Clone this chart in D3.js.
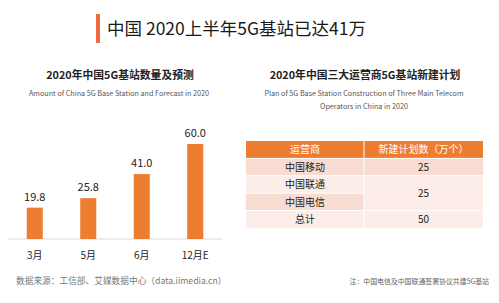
<!DOCTYPE html>
<html>
<head>
<meta charset="utf-8">
<script src="https://cdn.jsdelivr.net/npm/d3@7"></script>
<style>
  body { margin: 0; background: #fff; }
  svg { display: block; font-family: "Noto Sans CJK SC", "Noto Sans", sans-serif; }
</style>
</head>
<body>
<svg id="chart" width="499" height="303"></svg>
<script>
// bar chart data
const months = ['3月', '5月', '6月', '12月E'];
const stations = [19.8, 25.8, 41.0, 60.0];

// table data
const tableHeader = ['运营商', '新建计划数（万个）'];
const operators = ['中国移动', '中国联通', '中国电信', '总计'];
const planValues = [25, 25, 50]; // 联通+电信 share one merged cell

const orange = '#ED7D31';
const svg = d3.select('#chart');

// main title with marker
svg.append('rect')
  .attr('x', 96).attr('y', 14).attr('width', 4).attr('height', 29)
  .attr('fill', '#EE6A3F');
svg.append('text')
  .attr('x', 107).attr('y', 35)
  .attr('font-size', 17.5).attr('fill', '#1a1a1a')
  .text('中国 2020上半年5G基站已达41万');

// section titles
svg.append('text')
  .attr('x', 120).attr('y', 79).attr('text-anchor', 'middle')
  .attr('font-size', 10.8).attr('font-weight', 'bold').attr('fill', '#222')
  .text('2020年中国5G基站数量及预测');
svg.append('text')
  .attr('x', 119).attr('y', 96).attr('text-anchor', 'middle')
  .attr('font-size', 7.2).attr('fill', '#555')
  .text('Amount of China 5G Base Station and Forecast in 2020');

svg.append('text')
  .attr('x', 365).attr('y', 79).attr('text-anchor', 'middle')
  .attr('font-size', 10.8).attr('font-weight', 'bold').attr('fill', '#222')
  .text('2020年中国三大运营商5G基站新建计划');
svg.append('text')
  .attr('x', 364).attr('y', 96).attr('text-anchor', 'middle')
  .attr('font-size', 7.2).attr('fill', '#555')
  .text('Plan of 5G Base Station Construction of Three Main Telecom');
svg.append('text')
  .attr('x', 364).attr('y', 109).attr('text-anchor', 'middle')
  .attr('font-size', 7.2).attr('fill', '#555')
  .text('Operators in China in 2020');

// bar chart
const x = d3.scaleBand()
  .domain(months)
  .range([8, 222])
  .paddingInner(0.7)
  .paddingOuter(0.35);

const y = d3.scaleLinear()
  .domain([0, 60])
  .range([239, 144]);

svg.append('line')
  .attr('x1', 8).attr('x2', 222)
  .attr('y1', y(0)).attr('y2', y(0))
  .attr('stroke', '#d9d9d9').attr('stroke-width', 1);

const bars = svg.append('g').selectAll('g')
  .data(stations)
  .enter()
  .append('g');

bars.append('rect')
  .attr('x', (d, i) => x(months[i]))
  .attr('y', d => y(d))
  .attr('width', x.bandwidth())
  .attr('height', d => y(0) - y(d))
  .attr('fill', orange);

bars.append('text')
  .attr('x', (d, i) => x(months[i]) + x.bandwidth() / 2)
  .attr('y', d => y(d) - 7)
  .attr('text-anchor', 'middle')
  .attr('font-size', 11).attr('fill', '#222')
  .text(d => d.toFixed(1));

const xAxis = d3.axisBottom(x).tickSize(0).tickPadding(13);
svg.append('g')
  .attr('transform', `translate(0, ${y(0)})`)
  .call(xAxis)
  .call(g => g.select('.domain').remove())
  .selectAll('text')
  .attr('font-family', '"Noto Sans CJK SC", sans-serif')
  .attr('font-size', 10).attr('fill', '#222');

// table
const tx = 246, tMid = 364, tRight = 483;
const rowY = d3.scaleBand()
  .domain(['head'].concat(operators))
  .range([141, 228]);
const rh = rowY.bandwidth();
const dark = '#F8DCD2', light = '#FCEDE8';
const rowFill = [dark, light, dark, light];

svg.append('rect')
  .attr('x', tx).attr('y', rowY('head'))
  .attr('width', tRight - tx).attr('height', rh)
  .attr('fill', orange);

tableHeader.forEach((h, i) => {
  svg.append('text')
    .attr('x', i === 0 ? (tx + tMid) / 2 : (tMid + tRight) / 2)
    .attr('y', rowY('head') + rh / 2 + 3.6)
    .attr('text-anchor', 'middle')
    .attr('font-size', 10).attr('fill', '#fff')
    .text(h);
});

operators.forEach((op, i) => {
  svg.append('rect')
    .attr('x', tx).attr('y', rowY(op))
    .attr('width', tMid - tx).attr('height', rh)
    .attr('fill', rowFill[i]);
  svg.append('text')
    .attr('x', (tx + tMid) / 2)
    .attr('y', rowY(op) + rh / 2 + 3.6)
    .attr('text-anchor', 'middle')
    .attr('font-size', 10).attr('fill', '#222')
    .text(op);
});

// value column: row1, merged rows 2-3, row4
const valueCells = [
  { top: rowY(operators[0]), h: rh, fill: dark, v: planValues[0] },
  { top: rowY(operators[1]), h: rh * 2, fill: light, v: planValues[1] },
  { top: rowY(operators[3]), h: rh, fill: light, v: planValues[2] }
];
valueCells.forEach(c => {
  svg.append('rect')
    .attr('x', tMid).attr('y', c.top)
    .attr('width', tRight - tMid).attr('height', c.h)
    .attr('fill', c.fill);
  svg.append('text')
    .attr('x', (tMid + tRight) / 2)
    .attr('y', c.top + c.h / 2 + 3.6)
    .attr('text-anchor', 'middle')
    .attr('font-size', 10).attr('fill', '#222')
    .text(c.v);
});

// white grid lines
const grid = svg.append('g').attr('stroke', '#fff').attr('stroke-width', 1);
grid.append('line').attr('x1', tMid).attr('x2', tMid)
  .attr('y1', rowY('head')).attr('y2', 228);
operators.forEach((op, i) => {
  grid.append('line')
    .attr('x1', tx).attr('x2', i === 2 ? tMid : tRight)
    .attr('y1', rowY(op)).attr('y2', rowY(op));
});

// footer
svg.append('text')
  .attr('x', 16).attr('y', 284)
  .attr('font-size', 8.7).attr('fill', '#777')
  .text('数据来源：工信部、艾媒数据中心（data.iimedia.cn）');
svg.append('text')
  .attr('x', 489).attr('y', 284).attr('text-anchor', 'end')
  .attr('font-size', 6.9).attr('fill', '#666')
  .text('注：中国电信及中国联通签署协议共建5G基站');
</script>
</body>
</html>
